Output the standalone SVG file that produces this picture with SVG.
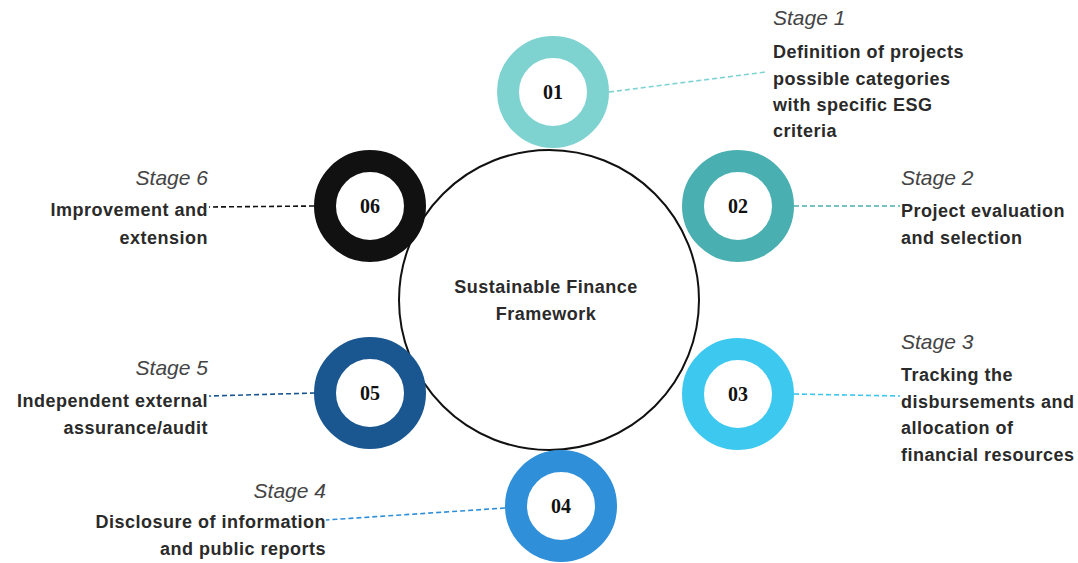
<svg xmlns="http://www.w3.org/2000/svg" width="1078" height="563" viewBox="0 0 1078 563">
<style>
.ring{fill:none;stroke-width:22}
.num{font-family:"Liberation Serif",serif;font-weight:bold;font-size:20px;fill:#111;text-anchor:middle;dominant-baseline:central}
.stage{font-family:"Liberation Sans",Arial,sans-serif;font-style:italic;font-size:21px;fill:#444}
.desc{font-family:"Liberation Sans",Arial,sans-serif;font-weight:bold;font-size:18px;letter-spacing:0.5px;fill:#2a2a2a}
.conn{fill:none;stroke-width:1.6;stroke-dasharray:5 3}
.r{text-anchor:end}
</style>
<rect width="1078" height="563" fill="#fff"/>
<g id="connectors">
<line class="conn" x1="609" y1="92" x2="766" y2="72" stroke="#7ed3d1"/>
<line class="conn" x1="794" y1="206" x2="900" y2="206" stroke="#4aafb0"/>
<line class="conn" x1="794" y1="394" x2="900" y2="396" stroke="#3cc8ef"/>
<line class="conn" x1="505" y1="508" x2="326" y2="520" stroke="#2f8fd8"/>
<line class="conn" x1="315" y1="393" x2="209" y2="396" stroke="#1a5690"/>
<line class="conn" x1="314" y1="206" x2="209" y2="207" stroke="#111"/>
</g>
<g id="center">
<circle cx="549" cy="300" r="150" fill="#fff" stroke="#111" stroke-width="2"/>
<text class="desc" x="546" y="293" text-anchor="middle">Sustainable Finance</text>
<text class="desc" x="546" y="320" text-anchor="middle">Framework</text>
</g>
<g id="node01">
<circle class="ring" cx="553" cy="92" r="45" stroke="#7ed3d1"/>
<text class="num" x="553" y="92">01</text>
<text class="stage" x="773" y="25">Stage 1</text>
<text class="desc" x="773" y="58">Definition of projects</text>
<text class="desc" x="773" y="85">possible categories</text>
<text class="desc" x="773" y="111">with specific ESG</text>
<text class="desc" x="773" y="137">criteria</text>
</g>
<g id="node02">
<circle class="ring" cx="738" cy="206" r="45" stroke="#4aafb0"/>
<text class="num" x="738" y="206">02</text>
<text class="stage" x="901" y="185">Stage 2</text>
<text class="desc" x="901" y="217">Project evaluation</text>
<text class="desc" x="901" y="244">and selection</text>
</g>
<g id="node03">
<circle class="ring" cx="738" cy="394" r="45" stroke="#3cc8ef"/>
<text class="num" x="738" y="394">03</text>
<text class="stage" x="901" y="349">Stage 3</text>
<text class="desc" x="901" y="381">Tracking the</text>
<text class="desc" x="901" y="408">disbursements and</text>
<text class="desc" x="901" y="434">allocation of</text>
<text class="desc" x="901" y="461">financial resources</text>
</g>
<g id="node04">
<circle class="ring" cx="561" cy="506" r="45" stroke="#2f8fd8"/>
<text class="num" x="561" y="506">04</text>
<text class="stage r" x="326" y="498">Stage 4</text>
<text class="desc r" x="326" y="528">Disclosure of information</text>
<text class="desc r" x="326" y="555">and public reports</text>
</g>
<g id="node05">
<circle class="ring" cx="370" cy="393" r="45" stroke="#1a5690"/>
<text class="num" x="370" y="393">05</text>
<text class="stage r" x="208" y="375">Stage 5</text>
<text class="desc r" x="208" y="407">Independent external</text>
<text class="desc r" x="208" y="434">assurance/audit</text>
</g>
<g id="node06">
<circle class="ring" cx="370" cy="206" r="45" stroke="#111"/>
<text class="num" x="370" y="206">06</text>
<text class="stage r" x="208" y="185">Stage 6</text>
<text class="desc r" x="208" y="216">Improvement and</text>
<text class="desc r" x="208" y="244">extension</text>
</g>
</svg>
